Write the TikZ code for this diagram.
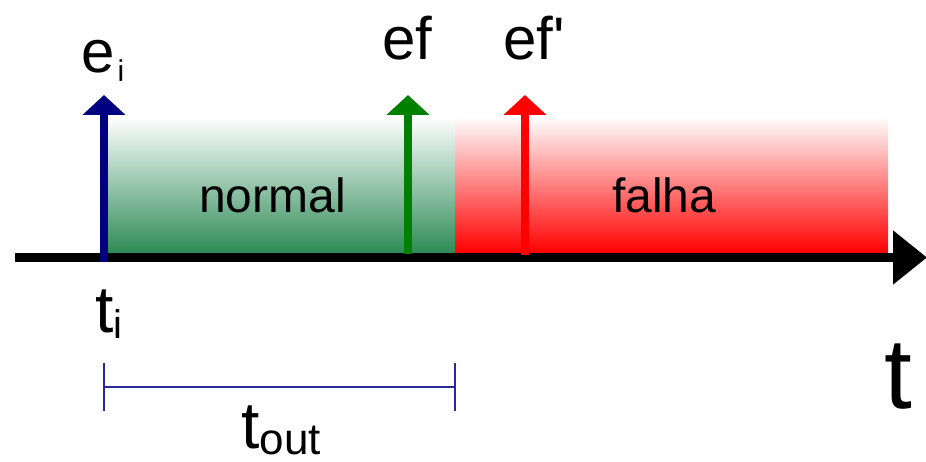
\documentclass[tikz,border=0pt]{standalone}
\usepackage{fontspec}
\setmainfont{Liberation Sans}
\usetikzlibrary{arrows.meta}
\definecolor{navyarrow}{RGB}{0,0,128}
\definecolor{greenarrow}{RGB}{0,128,0}
\definecolor{redarrow}{RGB}{255,0,0}
\definecolor{seagreen}{RGB}{46,139,87}
\definecolor{spanblue}{RGB}{40,40,160}
\newcommand{\fs}[1]{\fontsize{#1}{#1}\selectfont}
\tikzset{
  event/.style={line width=8pt, -{Triangle[length=20pt,width=42pt]}},
  lbl/.style={inner sep=0pt, anchor=base west, text=black},
  region/.style={draw=none, inner sep=0pt, anchor=south west},
  span/.style={draw=spanblue, line width=1.6pt},
}
\begin{document}
\begin{tikzpicture}[x=1pt,y=-1pt]
  \useasboundingbox (0,0) rectangle (926,462);

  % state regions on the time line
  \node[region, minimum width=347pt, minimum height=136pt,
        top color=white, bottom color=seagreen] (normalreg) at (108,253) {};
  \node[region, minimum width=433pt, minimum height=136pt,
        top color=white, bottom color=red] (falhareg) at (455,253) {};
  \node[lbl, font=\fs{48}] (normal) at (199,213) {normal};
  \node[lbl, font=\fs{48}] (falha) at (612,213) {falha};

  % time axis
  \coordinate (axstart) at (15,257.5);
  \coordinate (axend) at (927,257.5);
  \draw[line width=9pt, -{Triangle[length=34pt,width=52pt]}] (axstart) -- (axend);

  % events
  \coordinate (eibase) at (104,262);
  \coordinate (eitip) at (104,95);
  \coordinate (efbase) at (408,254);
  \coordinate (eftip) at (408,95);
  \coordinate (efpbase) at (525,255);
  \coordinate (efptip) at (525,95);
  \draw[event, navyarrow] (eibase) -- (eitip);
  \draw[event, greenarrow] (efbase) -- (eftip);
  \draw[event, redarrow] (efpbase) -- (efptip);

  \node[lbl] (ei) at (81,73) {\fs{60}e\raisebox{-9pt}{\fs{30}\hspace{3pt}i}};
  \node[lbl, font=\fs{60}] (ef) at (382,60) {ef};
  \node[lbl, font=\fs{60}] (efp) at (503,60) {ef\textquotesingle};

  % start instant and time label
  \node[lbl] (ti) at (95,332) {\fs{66}t\raisebox{-6pt}{\fs{40}i}};
  \node[lbl, font=\fs{100}] (tlabel) at (884,408) {t};

  % timeout span
  \coordinate (spl) at (104,387);
  \coordinate (spr) at (455,387);
  \draw[span] (spl) -- (spr);
  \draw[span] ([yshift=-24pt]spl) -- ([yshift=24pt]spl);
  \draw[span] ([yshift=-24pt]spr) -- ([yshift=24pt]spr);
  \node[lbl] (tout) at (241,448) {\fs{66}t\raisebox{-6pt}{\fs{44}out}};
\end{tikzpicture}
\end{document}
